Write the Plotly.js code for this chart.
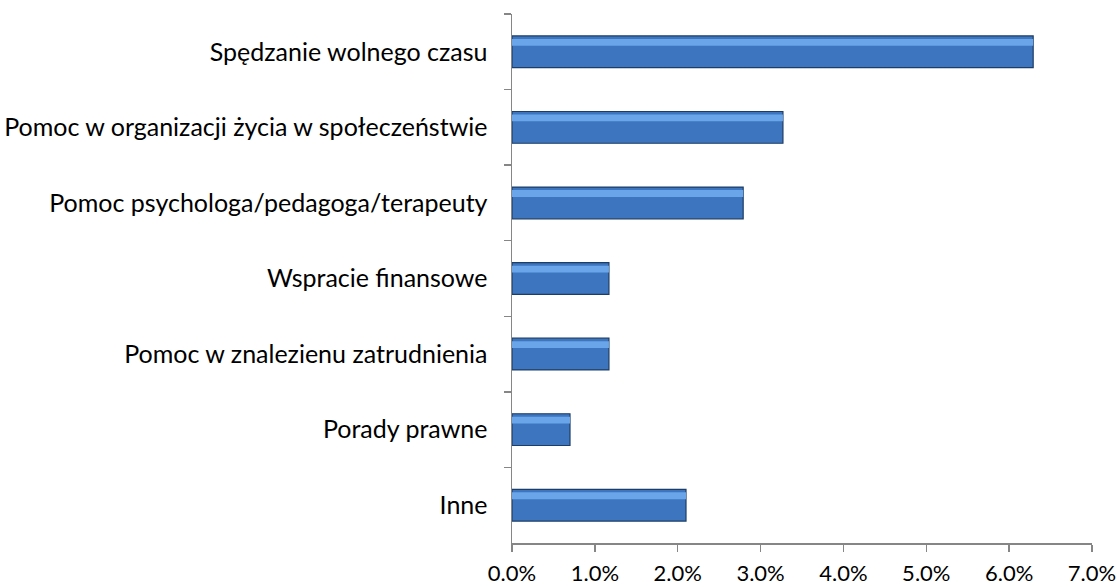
<!DOCTYPE html>
<html>
<head>
<meta charset="utf-8">
<script src="https://cdn.plot.ly/plotly-3.0.1.min.js"></script>
<style>
  body { margin: 0; background: #fff; }
  #chart { width: 1117px; height: 587px; }
</style>
</head>
<body>
<div id="chart"></div>
<script>
// categories top to bottom
const categories = [
  "Spędzanie wolnego czasu",
  "Pomoc w organizacji życia w społeczeństwie",
  "Pomoc psychologa/pedagoga/terapeuty",
  "Wspracie finansowe",
  "Pomoc w znalezienu zatrudnienia",
  "Porady prawne",
  "Inne"
];
const shares = [0.0629, 0.0327, 0.0279, 0.0117, 0.0117, 0.0070, 0.0210];
const tickVals = [0, 0.01, 0.02, 0.03, 0.04, 0.05, 0.06, 0.07];

// main bar body
let barMain = {
  type: "bar",
  orientation: "h",
  y: categories,
  x: shares,
  width: 0.42,
  marker: {
    color: "#3d76bf",
    line: { color: "#1d3c66", width: 1.2 }
  },
  hoverinfo: "x+y",
  showlegend: false
};

// light strip to fake the bevel highlight
let barShine = {
  type: "bar",
  orientation: "h",
  y: categories,
  x: shares,
  width: 0.09,
  offset: -0.17,
  marker: { color: "#69a5e8", line: { width: 0 } },
  hoverinfo: "skip",
  showlegend: false
};

let layout = {
  width: 1117,
  height: 587,
  margin: { l: 512, r: 25, t: 14, b: 44 },
  paper_bgcolor: "#fff",
  plot_bgcolor: "#fff",
  barmode: "overlay",
  font: { family: "Lato, 'Open Sans', sans-serif", size: 25, color: "#000" },
  xaxis: {
    range: [0, 0.07],
    tickvals: tickVals,
    tickformat: ".1%",
    tickfont: { size: 22 },
    ticklabeloverflow: "allow",
    showgrid: false,
    zeroline: false,
    showline: true,
    linecolor: "#868686",
    linewidth: 1.5,
    ticks: "outside",
    ticklen: 7,
    tickcolor: "#868686",
    tickwidth: 1.5,
    ticklabelstandoff: 3,
    fixedrange: true
  },
  yaxis: {
    type: "category",
    autorange: "reversed",
    showgrid: false,
    zeroline: false,
    showline: true,
    linecolor: "#868686",
    linewidth: 1.5,
    ticks: "outside",
    tickson: "boundaries",
    ticklen: 7,
    tickcolor: "#868686",
    tickwidth: 1.5,
    ticklabelstandoff: 18,
    fixedrange: true
  }
};

Plotly.newPlot("chart", [barMain, barShine], layout, { displayModeBar: false, staticPlot: true });
</script>
</body>
</html>
